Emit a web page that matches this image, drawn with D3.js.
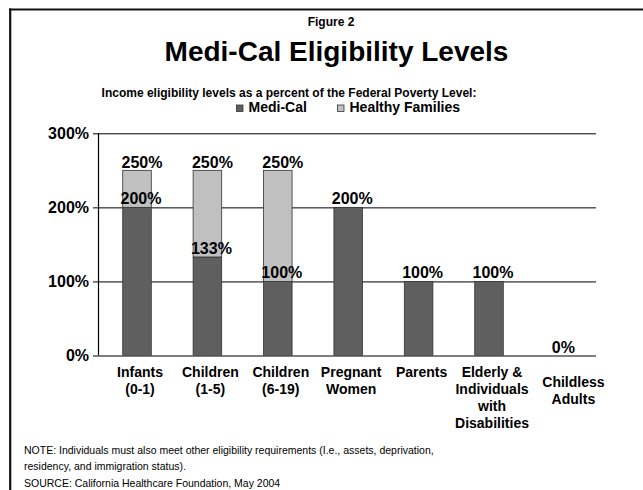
<!DOCTYPE html>
<html>
<head>
<meta charset="utf-8">
<script src="https://cdn.jsdelivr.net/npm/d3@7"></script>
<style>
  html, body { margin: 0; padding: 0; background: #ffffff; }
  svg { display: block; font-family: "Liberation Sans", Arial, sans-serif; }
</style>
</head>
<body>
<svg id="chart" width="643" height="490"></svg>
<script>
// ---- Data ----
const categories = [
  "Infants\n(0-1)",
  "Children\n(1-5)",
  "Children\n(6-19)",
  "Pregnant\nWomen",
  "Parents",
  "Elderly &\nIndividuals\nwith\nDisabilities",
  "Childless\nAdults"
];
const mediCal = [200, 133, 100, 200, 100, 100, 0];
const healthyFamilies = [250, 250, 250, null, null, null, null];
const yTicks = [0, 100, 200, 300];
const seriesNames = ["Medi-Cal", "Healthy Families"];
const figureLabel = "Figure 2";
const titleText = "Medi-Cal Eligibility Levels";
const subtitleText = "Income eligibility levels as a percent of the Federal Poverty Level:";
const noteLines = [
  "NOTE: Individuals must also meet other eligibility requirements (I.e., assets, deprivation,",
  "residency, and immigration status)."
];
const sourceText = "SOURCE: California Healthcare Foundation, May 2004";

// ---- Layout ----
const svg = d3.select("#chart");
const colors = { "Medi-Cal": "#5f5f5f", "Healthy Families": "#c0c0c0" };
const plotLeft = 98, plotRight = 596, plotTop = 133.3, plotBottom = 355.5;

const x = d3.scaleBand()
  .domain(d3.range(categories.length))
  .range([101.8, 594.6])
  .paddingInner(0.594)
  .paddingOuter(0.297);
const y = d3.scaleLinear().domain([0, 300]).range([plotBottom, plotTop]);

// frame
svg.append("line").attr("x1", 9).attr("x2", 643).attr("y1", 9.5).attr("y2", 9.5)
  .attr("stroke", "#111").attr("stroke-width", 2.2);
svg.append("line").attr("x1", 10.2).attr("x2", 10.2).attr("y1", 8.5).attr("y2", 490)
  .attr("stroke", "#111").attr("stroke-width", 2.2);

// titles
svg.append("text").attr("x", 331).attr("y", 26).attr("text-anchor", "middle")
  .attr("font-size", 12).attr("font-weight", "bold").text(figureLabel);
svg.append("text").attr("x", 336.5).attr("y", 60.5).attr("text-anchor", "middle")
  .attr("font-size", 28).attr("font-weight", "bold").text(titleText);
svg.append("text").attr("x", 289).attr("y", 97).attr("text-anchor", "middle")
  .attr("font-size", 12).attr("font-weight", "bold").text(subtitleText);

// legend
const legendX = [236.5, 337.5];
seriesNames.forEach((s, i) => {
  svg.append("rect").attr("x", legendX[i]).attr("y", 105).attr("width", 6.5).attr("height", 6.5)
    .attr("fill", colors[s]).attr("stroke", "#333").attr("stroke-width", 0.8);
  svg.append("text").attr("x", legendX[i] + 12).attr("y", 112.3)
    .attr("font-size", 14).attr("font-weight", "bold").text(s);
});

// gridlines
const grid = svg.append("g").attr("transform", `translate(${plotLeft},0)`)
  .call(d3.axisLeft(y).tickValues(yTicks.filter(d => d > 0)).tickSize(-(plotRight - plotLeft)).tickFormat(""));
grid.select(".domain").remove();
grid.selectAll(".tick line").attr("stroke", "#000").attr("stroke-width", 1);

// bars: Medi-Cal
const mcData = mediCal.map((v, i) => ({ i, v })).filter(d => d.v > 0);
svg.append("g").selectAll("rect").data(mcData).join("rect")
  .attr("x", d => x(d.i)).attr("width", x.bandwidth())
  .attr("y", d => y(d.v)).attr("height", d => y(0) - y(d.v))
  .attr("fill", colors["Medi-Cal"]).attr("stroke", "#333").attr("stroke-width", 0.8);

// bars: Healthy Families (from Medi-Cal level up to HF level)
const hfData = healthyFamilies.map((v, i) => ({ i, v, base: mediCal[i] })).filter(d => d.v != null);
svg.append("g").selectAll("rect").data(hfData).join("rect")
  .attr("x", d => x(d.i)).attr("width", x.bandwidth())
  .attr("y", d => y(d.v)).attr("height", d => y(d.base) - y(d.v))
  .attr("fill", colors["Healthy Families"]).attr("stroke", "#333").attr("stroke-width", 0.8);

// y axis
const yAxis = svg.append("g").attr("transform", `translate(${plotLeft},0)`)
  .call(d3.axisLeft(y).tickValues(yTicks).tickSize(5).tickPadding(4).tickFormat(d => d + "%"));
yAxis.select(".domain").attr("stroke", "#000").attr("stroke-width", 1.2)
  .attr("d", `M0.5,${plotTop}V${plotBottom}`);
yAxis.selectAll(".tick line").attr("stroke", "#000");
yAxis.selectAll(".tick text").attr("font-size", 16).attr("font-weight", "bold")
  .attr("font-family", "Liberation Sans, Arial, sans-serif").attr("fill", "#000");

// x axis baseline
const xAxis = svg.append("g").attr("transform", `translate(0,${plotBottom})`)
  .call(d3.axisBottom(x).tickSize(0).tickFormat(""));
xAxis.select(".domain").attr("stroke", "#555").attr("stroke-width", 1.6)
  .attr("d", `M${plotLeft},0.5H${plotRight}`);

// category labels (multi-line)
const catG = svg.append("g");
categories.forEach((c, i) => {
  const last = i === categories.length - 1;
  const cx = x(i) + x.bandwidth() / 2 + (last ? 14 : 3);
  const y0 = 377 + (last ? 10 : 0);
  const t = catG.append("text").attr("text-anchor", "middle")
    .attr("font-size", 14).attr("font-weight", "bold");
  c.split("\n").forEach((line, k) => {
    t.append("tspan").attr("x", cx).attr("y", y0 + k * 17).text(line);
  });
});

// value labels
const labelG = svg.append("g").attr("font-size", 16).attr("font-weight", "bold").attr("text-anchor", "middle");
hfData.forEach(d => {
  labelG.append("text").attr("x", x(d.i) + x.bandwidth() / 2 + 5).attr("y", y(d.v) - 2).text(d.v + "%");
});
mediCal.forEach((v, i) => {
  labelG.append("text").attr("x", x(i) + x.bandwidth() / 2 + 4).attr("y", y(v) - 3).text(v + "%");
});

// notes
const noteG = svg.append("g").attr("font-size", 10.5).attr("fill", "#000");
noteLines.forEach((l, k) => {
  noteG.append("text").attr("x", 24).attr("y", 454 + k * 15.5).text(l);
});
noteG.append("text").attr("x", 24).attr("y", 487).text(sourceText);
</script>
</body>
</html>
